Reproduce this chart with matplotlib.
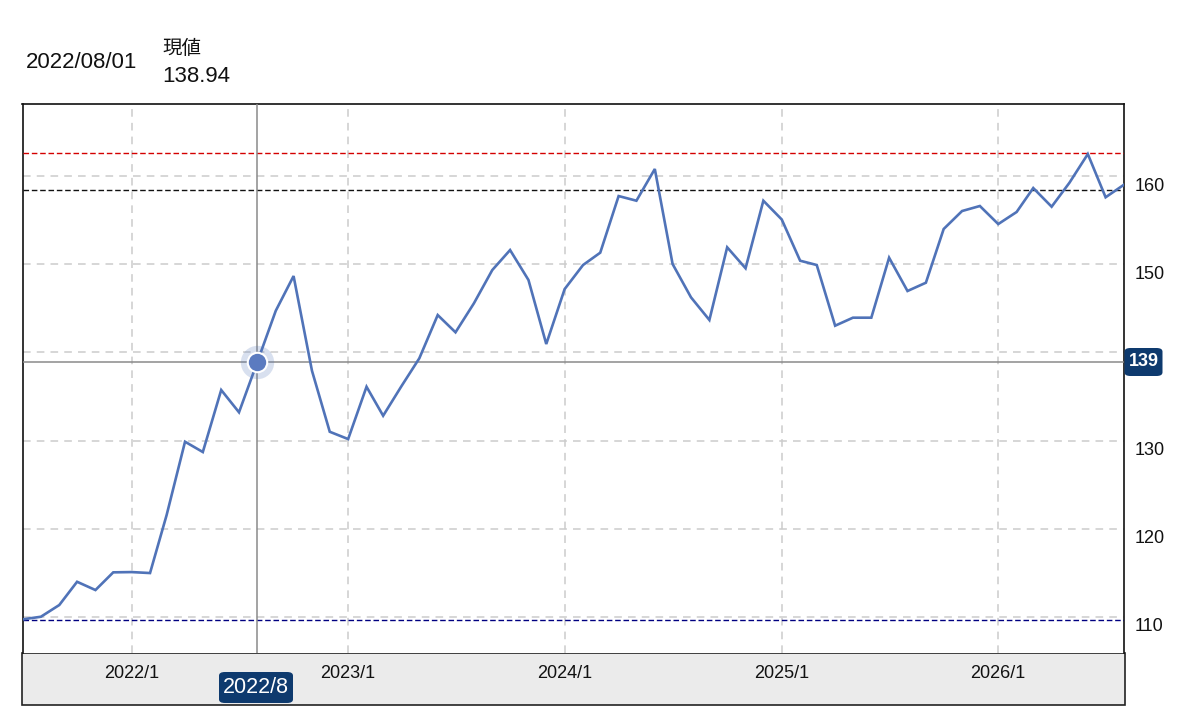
import numpy as np
import pandas as pd
import matplotlib
matplotlib.use("Agg")
import matplotlib.pyplot as plt
import matplotlib.transforms as mtransforms
from matplotlib.patches import Rectangle, FancyBboxPatch

plt.rcParams['font.family'] = ['Liberation Sans', 'Noto Sans CJK JP', 'DejaVu Sans']

# monthly values, 2021/7 .. 2026/8
start_month = "2021-07-01"
values = [
    109.70, 110.00, 111.33, 113.97, 113.03, 115.04,               # 2021/7-12
    115.07, 114.96, 121.55, 129.87, 128.70, 135.74,               # 2022/1-6
    133.21, 138.94, 144.74, 148.68, 137.93, 131.00,               # 2022/7-12
    130.17, 136.11, 132.82, 136.19, 139.34, 144.25,               # 2023/1-6
    142.29, 145.58, 149.36, 151.63, 148.23, 140.96,               # 2023/7-12
    147.20, 149.93, 151.33, 157.76, 157.23, 160.83,               # 2024/1-6
    150.04, 146.26, 143.69, 151.94, 149.56, 157.23,               # 2024/7-12
    155.10, 150.42, 149.93, 143.04, 143.95, 143.95,               # 2025/1-6
    150.76, 146.98, 147.92, 154.02, 156.06, 156.63,               # 2025/7-12
    154.58, 155.95, 158.67, 156.55, 159.27, 162.53,               # 2026/1-6
    157.62, 159.05,                                               # 2026/7-8
]
dates = pd.date_range(start_month, periods=len(values), freq="MS")

x_ticks = ["2022-01-01", "2023-01-01", "2024-01-01", "2025-01-01", "2026-01-01"]
x_tick_labels = ["2022/1", "2023/1", "2024/1", "2025/1", "2026/1"]
y_ticks = [110, 120, 130, 140, 150, 160]

cursor_date = "2022-08-01"
cursor_value = 138.94
ref_value = 158.45  # black dashed reference line

W, H = 1192, 722
fig = plt.figure(figsize=(W / 100, H / 100), dpi=100)

def fx(px):
    return px / W

def fy(py):
    return 1 - py / H

left, right, top, bottom = 22.5, 1124, 104, 652.5
ax = fig.add_axes([fx(left), fy(bottom), fx(right - left), (bottom - top) / H])
ax.set_zorder(2)

line_color = "#5073b8"
ax.plot(dates, values, color=line_color, lw=1.9, zorder=4, solid_joinstyle="miter")

ax.set_xlim(dates[0], dates[-1])
ax.set_ylim(105.94, 168.21)

# reference lines
ax.axhline(max(values) + 0.08, color="#d40000", lw=1.0, ls=(0, (4, 2)), zorder=3)
ax.axhline(ref_value, color="#111111", lw=1.0, ls=(0, (4, 2)), zorder=3)
ax.axhline(min(values) - 0.08, color="#000080", lw=1.0, ls=(0, (4, 2)), zorder=3)

# grid
ax.set_xticks(pd.to_datetime(x_ticks))
ax.set_xticklabels(x_tick_labels)
ax.set_yticks(y_ticks)
# the 140 label sits under the current-value badge
ax.set_yticklabels(["" if t == 140 else str(t) for t in y_ticks])
ax.grid(True, color="#cccccc", lw=1.1, ls=(0, (5, 4)))
ax.set_axisbelow(True)

ax.yaxis.tick_right()
ax.tick_params(axis="y", length=0, pad=8, labelsize=13, labelcolor="#111111")
ax.tick_params(axis="x", length=0, pad=9, labelsize=13, labelcolor="#111111")
# tick labels sit a bit below their gridlines
offset = mtransforms.ScaledTranslation(0, -8 / 100, fig.dpi_scale_trans)
for lab in ax.get_yticklabels():
    lab.set_transform(lab.get_transform() + offset)

for s in ax.spines.values():
    s.set_color("#111111")
    s.set_linewidth(1.2)
ax.spines["bottom"].set_visible(False)

# crosshair
cd = pd.Timestamp(cursor_date)
ax.axvline(cd, color="#8a8a8a", lw=1.1, zorder=3)
ax.axhline(cursor_value, color="#8a8a8a", lw=1.1, zorder=3)
ax.plot([cd], [cursor_value], "o", ms=24, color="#5073b8", alpha=0.22, mec="none", zorder=5)
ax.plot([cd], [cursor_value], "o", ms=14, color="#5b7bc0", mec="white", mew=1.5, zorder=6)

# grey x-axis band
fig.patches.append(Rectangle((fx(21.7), fy(705)), fx(1125.3 - 21.7), (705 - 652.5) / H,
                             transform=fig.transFigure, facecolor="#ebebeb",
                             edgecolor="#222222", lw=1.2, zorder=-1))

# badges
badge_color = "#0e3a6e"
fig.patches.append(FancyBboxPatch((fx(219), fy(703)), fx(293 - 219), (703 - 672) / H,
                                  boxstyle="round,pad=0,rounding_size=0.005",
                                  transform=fig.transFigure, facecolor=badge_color,
                                  edgecolor="none", zorder=5))
fig.text(fx(256), fy(687.5), "2022/8", color="white", fontsize=15.5,
         ha="center", va="center", zorder=6)
fig.patches.append(FancyBboxPatch((fx(1124.5), fy(376)), fx(1162.5 - 1124.5), (376 - 348) / H,
                                  boxstyle="round,pad=0,rounding_size=0.005",
                                  transform=fig.transFigure, facecolor=badge_color,
                                  edgecolor="none", zorder=5))
fig.text(fx(1143.5), fy(362), f"{cursor_value:.0f}", color="white", fontsize=13,
         fontweight="bold", ha="center", va="center", zorder=6)

# header
fig.text(fx(26), fy(63), "2022/08/01", fontsize=16, ha="left", va="center", color="#111111")
fig.text(fx(162), fy(49), "現値", fontsize=14, ha="left", va="center", color="#111111")
fig.text(fx(162), fy(76), f"{cursor_value:.2f}", fontsize=16, ha="left", va="center", color="#111111")

fig.savefig("out.png", dpi=100)
